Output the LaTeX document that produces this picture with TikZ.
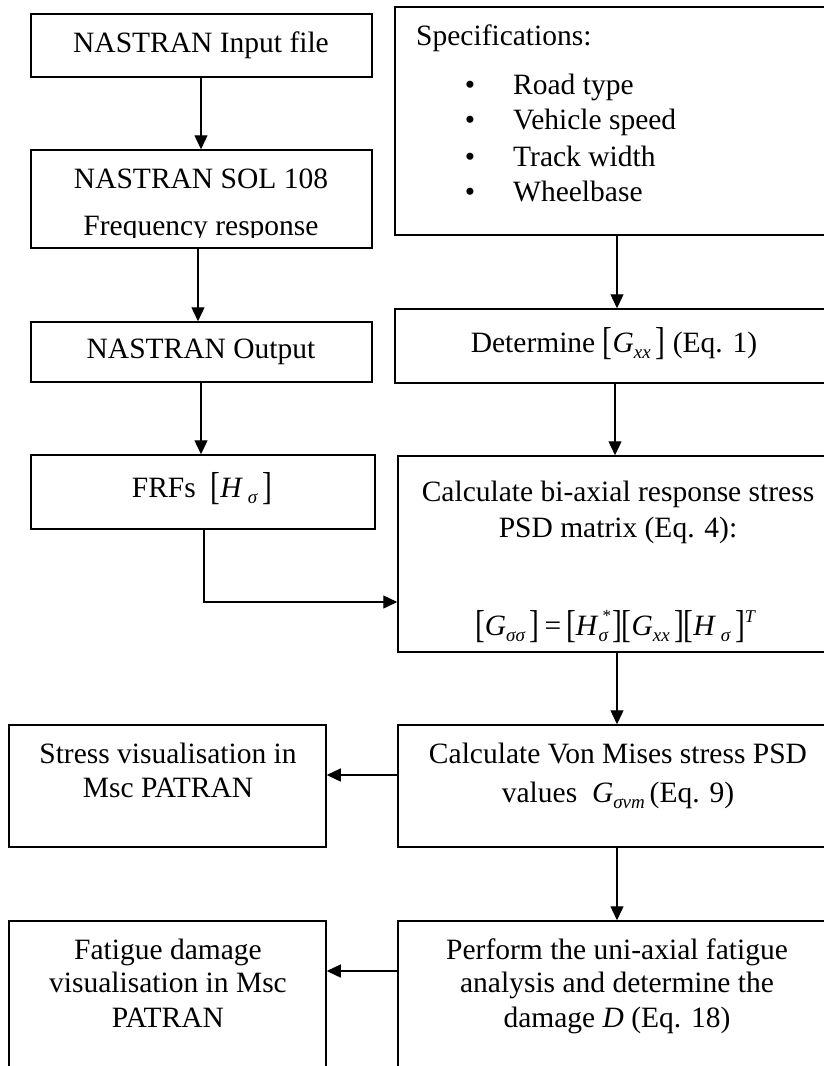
\documentclass[tikz,border=0pt]{standalone}
\usepackage{fontspec}
\setmainfont{Liberation Serif}
\usetikzlibrary{arrows.meta}
\newcommand{\lb}{\raisebox{-2.5pt}{\scalebox{1}[1.32]{[}}}
\newcommand{\rb}{\raisebox{-2.5pt}{\scalebox{1}[1.32]{]}}}
\newcommand{\sbs}[1]{\raisebox{-6pt}{\fontsize{19}{19}\selectfont\itshape #1}}
\newcommand{\sps}[1]{\raisebox{13pt}{\fontsize{18}{18}\selectfont\itshape #1}}
\newcommand{\both}[2]{\raisebox{14pt}{\makebox[0pt][l]{\hspace{4pt}\fontsize{17}{17}\selectfont #1}}\raisebox{-6pt}{\fontsize{19}{19}\selectfont\itshape #2}}
\begin{document}
\begin{tikzpicture}[x=1pt,y=-1pt,
  box/.style={draw, line width=1.5pt, inner sep=0pt, rectangle},
  txt/.style={inner sep=0pt, anchor=base, font=\fontsize{29.5}{29.5}\selectfont},
  ltxt/.style={txt, anchor=base west},
  arr/.style={line width=1.3pt, -{Triangle[length=14pt,width=13pt]}}]
\clip (0,0) rectangle (824,1066);
\fill[white] (0,0) rectangle (824,1066);
% boxes
\node[box, minimum width=341pt, minimum height=63pt] (in) at (201.5,45.5) {};
\node[box, minimum width=341pt, minimum height=98pt] (sol) at (201.5,199) {};
\node[box, minimum width=341pt, minimum height=60pt] (out) at (201.5,352) {};
\node[box, minimum width=344pt, minimum height=74pt] (frf) at (203,492) {};
\node[box, minimum width=435pt, minimum height=228pt] (spec) at (612.5,121) {};
\node[box, minimum width=435pt, minimum height=74pt] (det) at (612.5,346) {};
\node[box, minimum width=432pt, minimum height=196pt] (calc) at (614,554) {};
\node[box, minimum width=317pt, minimum height=122pt] (str) at (167.5,786) {};
\node[box, minimum width=432pt, minimum height=122pt] (vm) at (614,786) {};
\node[box, minimum width=317pt, minimum height=154pt] (fat) at (167.5,998) {};
\node[box, minimum width=432pt, minimum height=154pt] (perf) at (614,998) {};
% texts
\node[txt] (t1) at (201,52) {NASTRAN Input file};
\node[txt] (t2a) at (201,188) {NASTRAN SOL 108};
\begin{scope}
\clip (31,150) rectangle (372,237.5);
\node[txt] (t2b) at (201,235) {Frequency response};
\end{scope}
\node[txt] (t3) at (201,358) {NASTRAN Output};
\node[txt] (t4) at (202,497) {FRFs\ \ \lb\textit{H}\,\sbs{σ}\,\rb};
\node[ltxt] (s0) at (416,45) {Specifications:};
\node[txt] (b1) at (470,94) {\textbullet};
\node[txt] (b2) at (470,129) {\textbullet};
\node[txt] (b3) at (470,166) {\textbullet};
\node[txt] (b4) at (470,201) {\textbullet};
\node[ltxt] (s1) at (513,94) {Road type};
\node[ltxt] (s2) at (513,129) {Vehicle speed};
\node[ltxt] (s3) at (513,166) {Track width};
\node[ltxt] (s4) at (513,201) {Wheelbase};
\node[txt] (t5) at (614,352) {Determine \lb\textit{G}\sbs{xx}\,\rb\ (Eq. 1)};
\node[txt] (t6a) at (618,501) {Calculate bi-axial response stress};
\node[txt] (t6b) at (618,537) {PSD matrix (Eq. 4):};
\node[txt] (t6c) at (615,635) {\lb\textit{G}\sbs{σσ}\,\rb\,=\,\lb\textit{H}\both{*}{σ}\,\rb\kern-1pt\lb\textit{G}\sbs{xx}\,\rb\kern-1pt\lb\textit{H}\,\sbs{σ}\,\rb\sps{T}};
\node[txt] (t7a) at (168,763) {Stress visualisation in};
\node[txt] (t7b) at (168,797) {Msc PATRAN};
\node[txt] (t8a) at (618,763) {Calculate Von Mises stress PSD};
\node[txt] (t8b) at (618,802) {values\ \ \textit{G}\sbs{σvm}\,(Eq. 9)};
\node[txt] (t9a) at (168,959) {Fatigue damage};
\node[txt] (t9b) at (168,992) {visualisation in Msc};
\node[txt] (t9c) at (168,1027) {PATRAN};
\node[txt] (t10a) at (617,959) {Perform the uni-axial fatigue};
\node[txt] (t10b) at (617,992) {analysis and determine the};
\node[txt] (t10c) at (617,1027) {damage \textit{D} (Eq. 18)};
% connector coordinates
\coordinate (lxa) at (201,0);
\coordinate (lxb) at (198,0);
\coordinate (rxa) at (617,0);
\coordinate (rxb) at (615,0);
\coordinate (elb) at (204,602);
\coordinate (h1) at (0,775);
\coordinate (h2) at (0,971);
% connectors
\draw[arr] (in.south -| lxa) -- (sol.north -| lxa);
\draw[arr] (sol.south -| lxb) -- (out.north -| lxb);
\draw[arr] (out.south -| lxa) -- (frf.north -| lxa);
\draw[arr] (frf.south -| elb) -- (elb) -- (calc.west |- elb);
\draw[arr] (spec.south -| rxa) -- (det.north -| rxa);
\draw[arr] (det.south -| rxb) -- (calc.north -| rxb);
\draw[arr] (calc.south -| rxa) -- (vm.north -| rxa);
\draw[arr] (vm.west |- h1) -- (str.east |- h1);
\draw[arr] (vm.south -| rxa) -- (perf.north -| rxa);
\draw[arr] (perf.west |- h2) -- (fat.east |- h2);
\end{tikzpicture}
\end{document}
